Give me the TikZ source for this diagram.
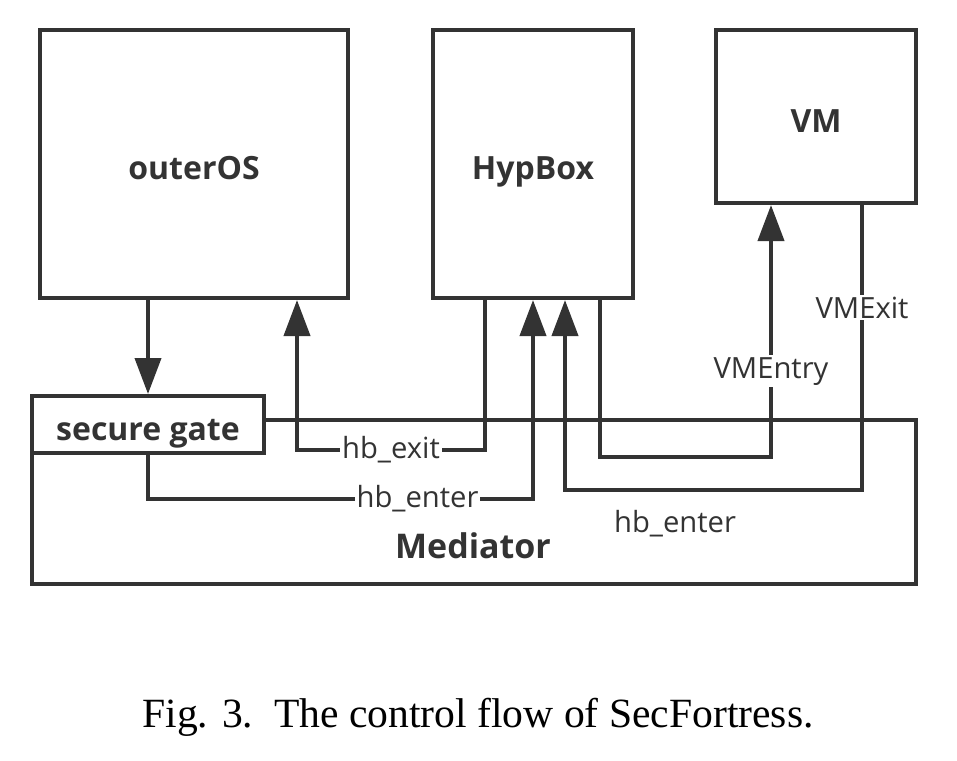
\documentclass[tikz,border=0pt]{standalone}
\usepackage{fontspec}
\setmainfont{Liberation Serif}
\newfontfamily\boxfont{Open Sans}
\usetikzlibrary{arrows.meta,calc}
\definecolor{ink}{HTML}{333333}
\begin{document}
\begin{tikzpicture}[x=0.5pt,y=-0.5pt,
  box/.style={draw=ink, line width=2pt, fill=white, inner sep=0pt, text height=15.5pt, text depth=0pt, font=\boxfont\bfseries\fontsize{16}{18}\selectfont, text=ink},
  flow/.style={draw=ink, line width=2pt, -{Triangle[length=18pt,width=13pt]}},
  lbl/.style={fill=white, inner sep=1pt, font=\boxfont\fontsize{14.6}{17}\selectfont, text=ink}]
\useasboundingbox (0,0) rectangle (957,760);

\node[box, minimum width=154pt, minimum height=134pt] (outeros) at (194,164) {outerOS};
\node[box, minimum width=100pt, minimum height=134pt] (hypbox) at (533,164) {HypBox};
\node[box, minimum width=100pt, minimum height=86.5pt] (vm) at (816,116.5) {VM};

\node[box, minimum width=442pt, minimum height=82pt] (mediator) at (474,502) {};
\node[box, draw=none, fill=none, font=\boxfont\bfseries\fontsize{17}{19}\selectfont] (medtxt) at (473,542.5) {Mediator};
\node[box, minimum width=116pt, minimum height=28.5pt] (gate) at (148,424.5) {secure gate};

\path[flow] (gate.north |- outeros.south) -- (gate.north);
\path[flow] ($(hypbox.south west)+(54,0)$) -- ++(0,150) -| node[lbl,pos=0.25] {hb\_exit} ($(outeros.south east)+(-53,0)$);
\path[flow] (gate.south) -- ++(0,44) -| node[lbl,pos=0.35] {hb\_enter} (hypbox.south);
\path[flow] ($(hypbox.south east)+(-35,0)$) -- ++(0,157) -| node[lbl,pos=0.67] {VMEntry} ($(vm.south west)+(57,0)$);
\path[flow] ($(vm.south east)+(-56,0)$) -- node[lbl,pos=0.36] {VMExit} ++(0,285) -| ($(hypbox.south west)+(134,0)$);

\node[lbl, fill=none] (hbenter) at (675,524) {hb\_enter};

\node[font=\fontsize{20.8}{24}\selectfont] (caption) at (478,717) {Fig. 3.\ \ The control flow of SecFortress.};
\end{tikzpicture}
\end{document}
